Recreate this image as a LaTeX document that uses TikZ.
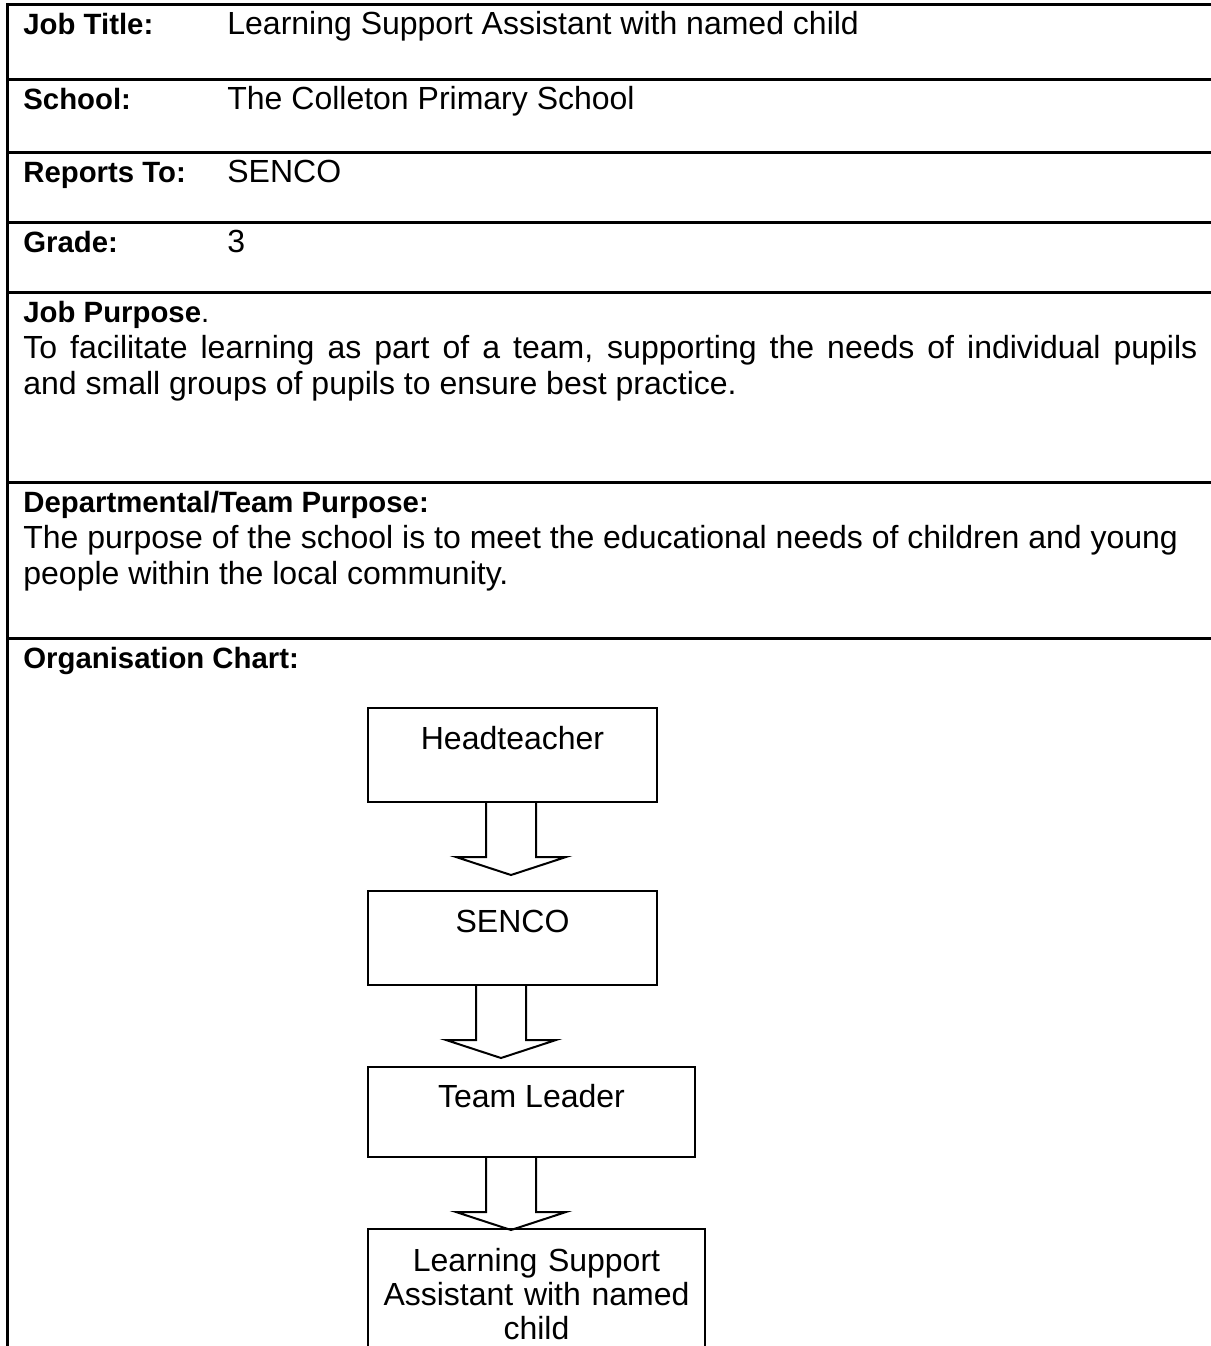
\documentclass[tikz,border=0pt]{standalone}
\usepackage{fontspec}
\setmainfont{Liberation Sans}
\usetikzlibrary{calc}

% open block arrow hanging from a box
\newcommand{\orgarrow}[1]{%
  \draw [orgline] (#1) ++(-25,0) -- ++(0,54) -- ++(-30,0) -- ++(55,18)
    -- ++(55,-18) -- ++(-30,0) -- ++(0,-54);}

\begin{document}
\begin{tikzpicture}[x = .5pt, y = -.5pt,
    rule/.style = {line width = 1.5pt},
    field/.style = {anchor = base west, inner sep = 0pt,
      font = \fontsize{16pt}{18pt}\selectfont},
    heading/.style = {field, font = \fontsize{14.67pt}{18pt}\selectfont\bfseries},
    orgline/.style = {line width = 1pt, line join = miter},
    orgbox/.style = {draw, orgline, anchor = north, inner sep = 0pt,
      font = \fontsize{16pt}{17pt}\selectfont}]
  \clip (0,0) rectangle (1211,1346);
  \fill [white] (0,0) rectangle (1211,1346);
  % table rules
  \foreach \y in {4,79,152,222,292,482,638}
    \draw [rule] (7,\y) -- (1220,\y);
  \draw [rule] (7,3) -- (7,1360);
  % fields
  \node [heading] (jobtitle) at (23,34) {Job Title:};
  \node [field] (jobtitleval) at (227,34) {Learning Support Assistant with named child};
  \node [heading] (school) at (23,109) {School:};
  \node [field] (schoolval) at (227,109) {The Colleton Primary School};
  \node [heading] (reports) at (23,182) {Reports To:};
  \node [field] (reportsval) at (227,182) {SENCO};
  \node [heading] (grade) at (23,252) {Grade:};
  \node [field] (gradeval) at (227,252) {3};
  \node [heading] (purpose) at (23,322) {Job Purpose\mdseries.};
  \node [field] (purpose1) at (23,358)
    {\makebox[587pt][s]{To facilitate learning as part of a team, supporting the needs of individual pupils}};
  \node [field] (purpose2) at (23,394) {and small groups of pupils to ensure best practice.};
  \node [heading] (dept) at (23,512) {Departmental/Team Purpose:};
  \node [field] (dept1) at (23,548)
    {The purpose of the school is to meet the educational needs of children and young};
  \node [field] (dept2) at (23,584) {people within the local community.};
  \node [heading] (org) at (23,668) {Organisation Chart:};
  % chart
  \node [orgbox, minimum width = 144.5pt, text height = 20.5pt, text depth = 26.5pt]
    (head) at (512.5,707) {Headteacher};
  \node [orgbox, minimum width = 144.5pt, text height = 20.5pt, text depth = 26.5pt]
    (senco) at (512.5,890) {SENCO};
  \node [orgbox, minimum width = 163.5pt, text height = 20pt, text depth = 25pt]
    (team) at (531.5,1066) {Team Leader};
  \node [orgbox, text width = 168.5pt, align = center]
    (lsa) at (536.5,1228)
    {\rule{0pt}{21pt}Learning Support\\Assistant with named\\child\rule[-40pt]{0pt}{40pt}};
  \coordinate (a1) at ($(head.south)+(-1.5,0)$);
  \coordinate (a2) at ($(senco.south)+(-11.5,0)$);
  \coordinate (a3) at ($(team.south)+(-20.5,0)$);
  \orgarrow{a1}
  \orgarrow{a2}
  \orgarrow{a3}
\end{tikzpicture}
\end{document}
